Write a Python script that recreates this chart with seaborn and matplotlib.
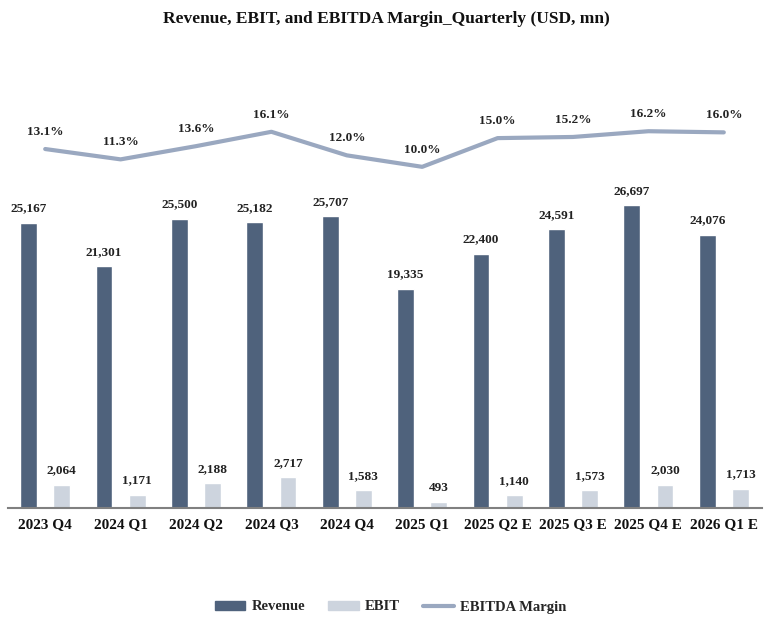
import pandas as pd
import matplotlib.pyplot as plt
import seaborn as sns
from matplotlib.patches import Patch
from matplotlib.lines import Line2D

quarters = ["2023 Q4", "2024 Q1", "2024 Q2", "2024 Q3", "2024 Q4",
            "2025 Q1", "2025 Q2 E", "2025 Q3 E", "2025 Q4 E", "2026 Q1 E"]
revenue = [25167, 21301, 25500, 25182, 25707, 19335, 22400, 24591, 26697, 24076]
ebit = [2064, 1171, 2188, 2717, 1583, 493, 1140, 1573, 2030, 1713]
ebitda_margin = [13.1, 11.3, 13.6, 16.1, 12.0, 10.0, 15.0, 15.2, 16.2, 16.0]

c_rev = "#4f627c"
c_ebit = "#cdd4de"
c_line = "#9aa8c0"

sns.set_theme(style="white")
plt.rcParams["font.family"] = ["Liberation Serif", "DejaVu Serif"]
plt.rcParams["font.weight"] = "bold"

df = pd.DataFrame({"Quarter": quarters * 2,
                   "Value": revenue + ebit,
                   "Metric": ["Revenue"] * len(quarters) + ["EBIT"] * len(quarters)})

fig = plt.figure(figsize=(7.73, 6.25), dpi=100)
ax = fig.add_axes([7.5 / 773, 1 - 508 / 625, 754 / 773, 448 / 625])

sns.barplot(data=df, x="Quarter", y="Value", hue="Metric", order=quarters,
            hue_order=["Revenue", "EBIT"], palette=[c_rev, c_ebit],
            width=0.88, gap=0.49, ax=ax, legend=False, saturation=1)

for cont in ax.containers:
    ax.bar_label(cont, fmt="{:,.0f}", padding=6, fontsize=9.5, fontweight="bold", color="#222222")

ax.set_xlim(-0.5, len(quarters) - 0.5)
ax.set_ylim(0, 39500)
ax.set_xlabel("")
ax.set_ylabel("")
ax.set_yticks([])
ax.tick_params(axis="x", length=0, pad=7)
for lbl in ax.get_xticklabels():
    lbl.set_fontsize(11)
    lbl.set_fontweight("bold")
    lbl.set_color("#111111")
for s in ["top", "right", "left"]:
    ax.spines[s].set_visible(False)
ax.spines["bottom"].set_color("#808080")
ax.spines["bottom"].set_linewidth(1.5)

ax2 = ax.twinx()
sns.lineplot(x=list(range(len(quarters))), y=ebitda_margin, color=c_line,
             linewidth=3, ax=ax2)
ax2.set_ylim(-49.4, 28.6)
ax2.set_yticks([])
ax2.set_xlim(-0.5, len(quarters) - 0.5)
for s in ["top", "right", "left", "bottom"]:
    ax2.spines[s].set_visible(False)
for i, m in enumerate(ebitda_margin):
    ax2.annotate(f"{m:.1f}%", (i, m), xytext=(0, 8), textcoords="offset points",
                 ha="center", va="bottom", fontsize=9.5, fontweight="bold", color="#222222")

fig.suptitle("Revenue, EBIT, and EBITDA Margin_Quarterly (USD, mn)",
             y=1 - 11 / 625, fontsize=12.5, fontweight="bold", color="#111111")

handles = [Patch(color=c_rev, label="Revenue"),
           Patch(color=c_ebit, label="EBIT"),
           Line2D([0], [0], color=c_line, linewidth=3, label="EBITDA Margin")]
fig.legend(handles=handles, loc="center", bbox_to_anchor=(0.505, 1 - 607 / 625),
           ncol=3, frameon=False, fontsize=10.5, handlelength=2.1, handleheight=0.55,
           columnspacing=1.6, handletextpad=0.4)

fig.savefig("out.png", dpi=100)
